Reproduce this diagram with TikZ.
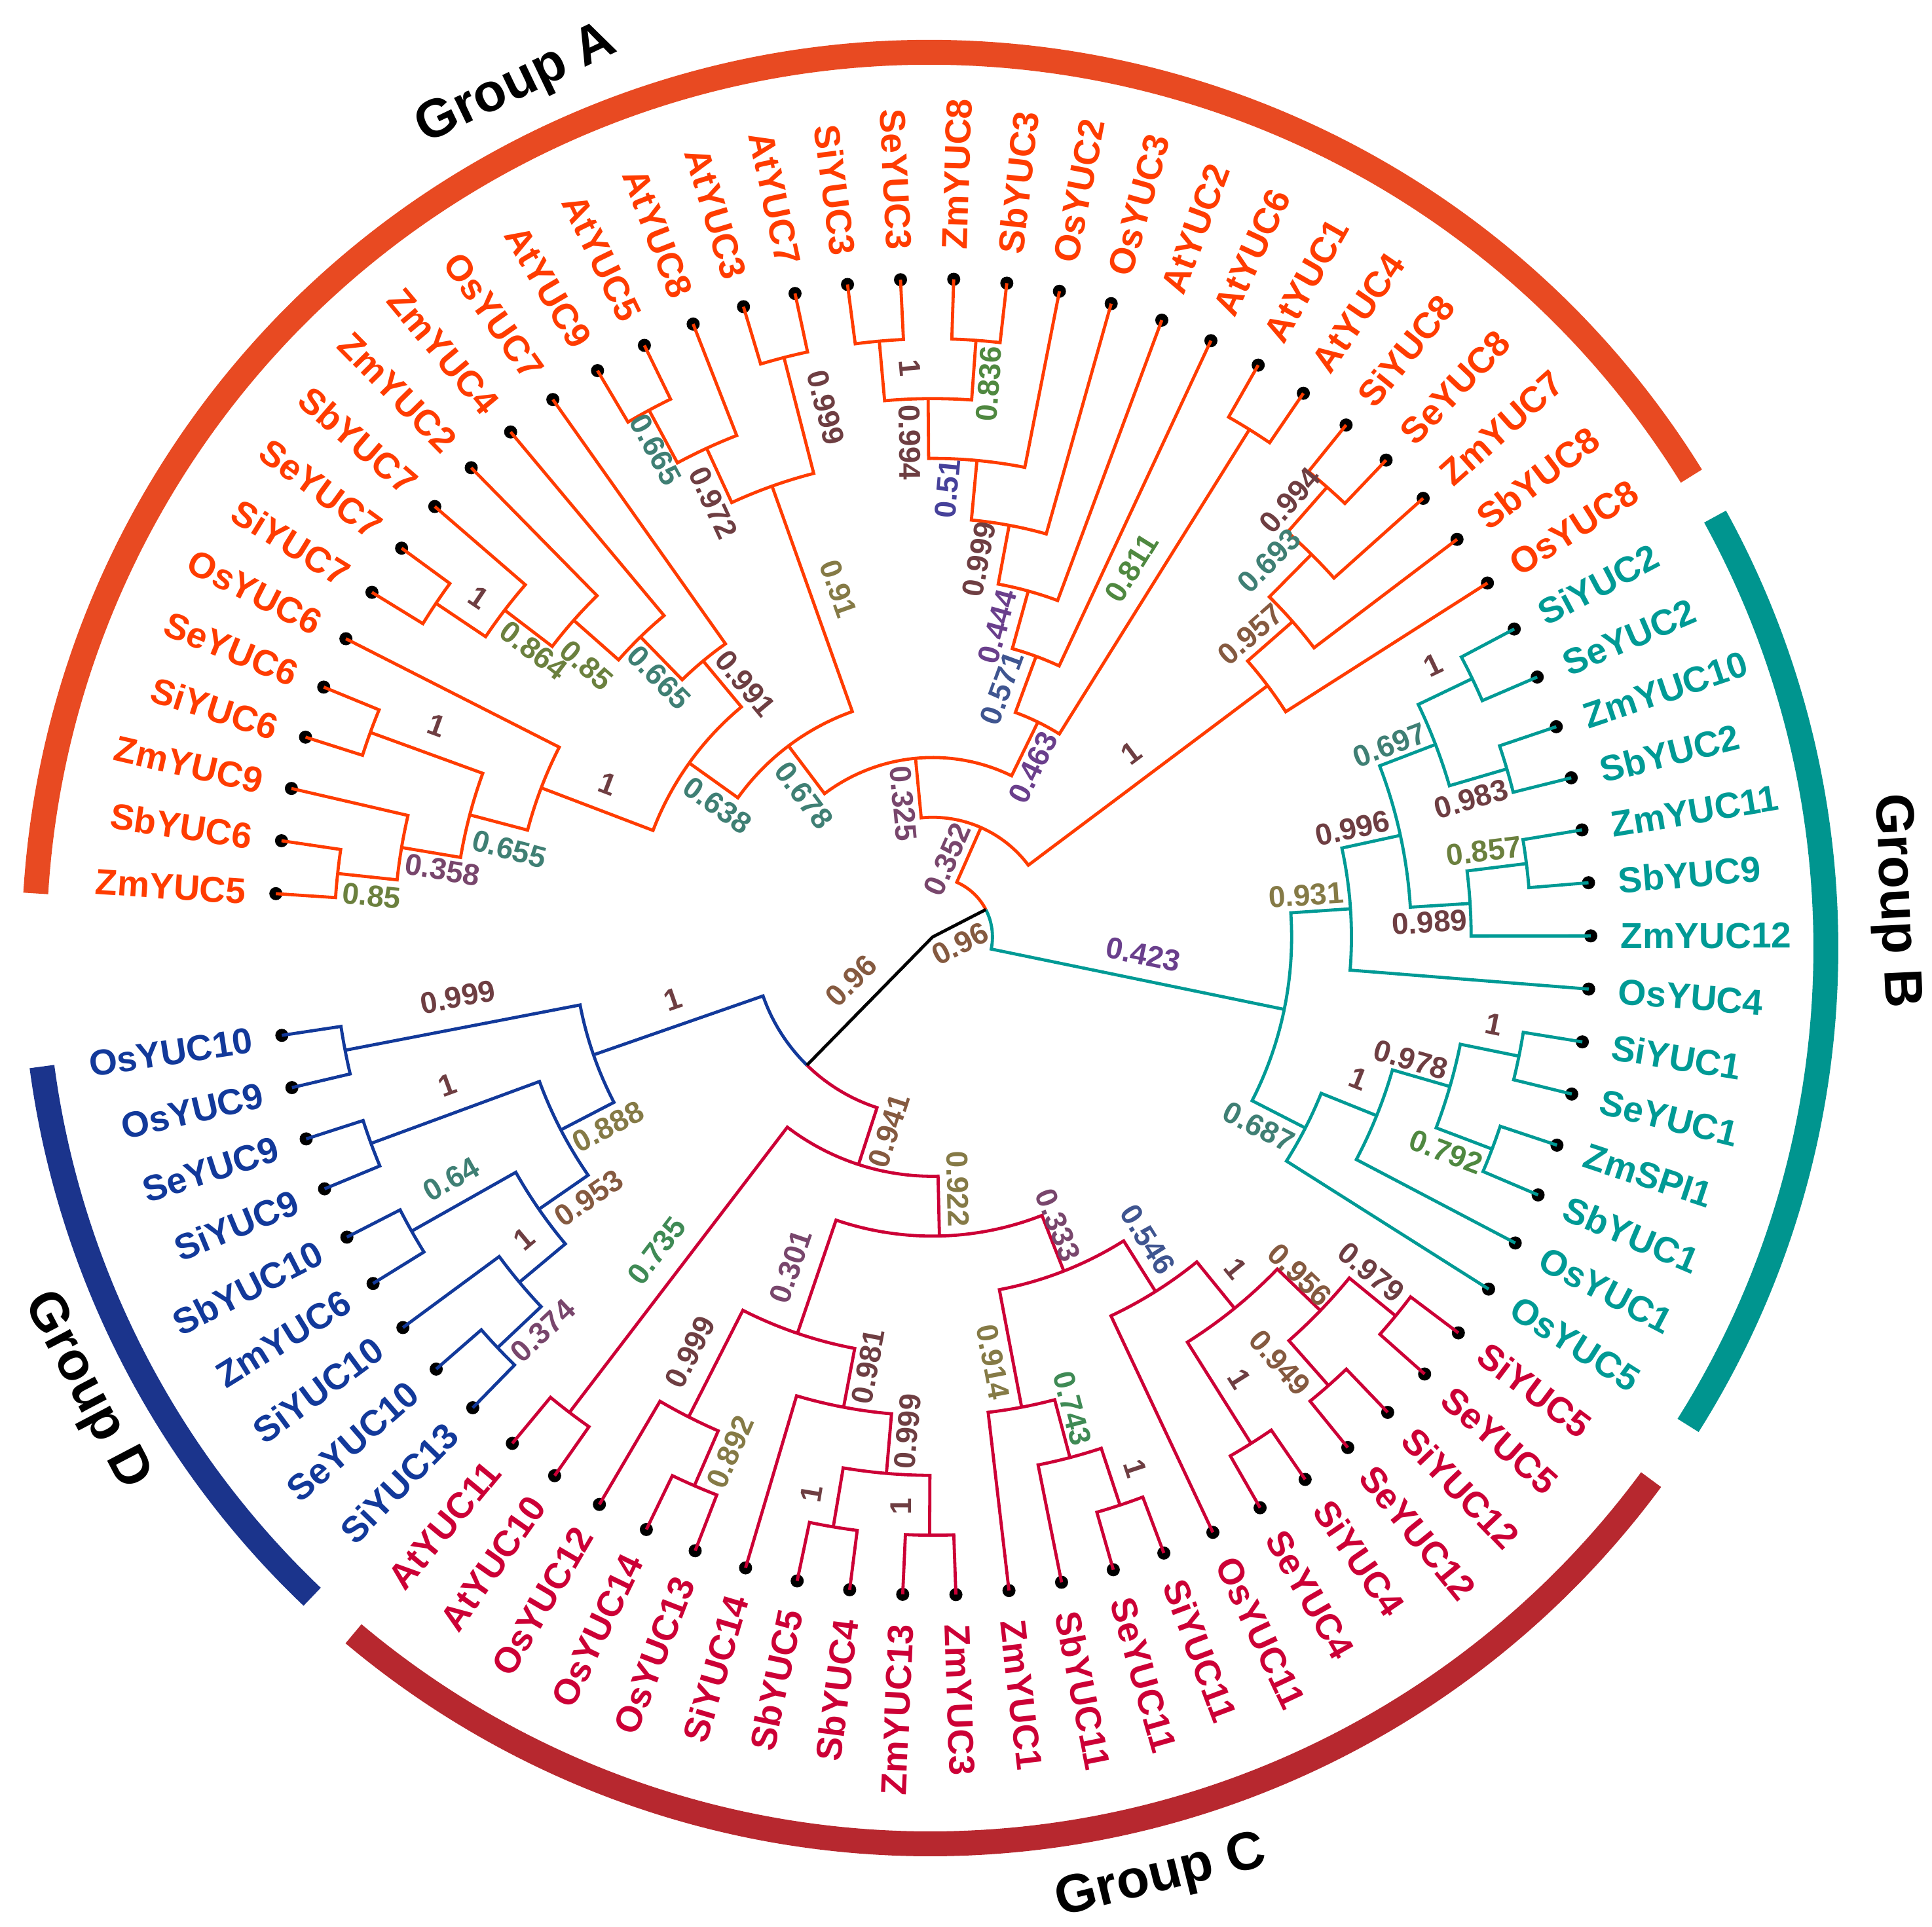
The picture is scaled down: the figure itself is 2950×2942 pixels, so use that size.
\documentclass[tikz,border=0pt]{standalone}
\usepackage{fontspec}
\setmainfont{Liberation Sans}
\definecolor{cA}{HTML}{FF3C00}
\definecolor{cB}{HTML}{009A95}
\definecolor{cC}{HTML}{CC0036}
\definecolor{cD}{HTML}{12399A}
\definecolor{gA}{HTML}{E84A22}
\definecolor{gB}{HTML}{00958F}
\definecolor{gC}{HTML}{B7282F}
\definecolor{gD}{HTML}{1B348C}
\definecolor{bs1}{HTML}{6E3E42}
\definecolor{bs2}{HTML}{855A40}
\definecolor{bs3}{HTML}{857A46}
\definecolor{bs4}{HTML}{6B803E}
\definecolor{bs5}{HTML}{4F8840}
\definecolor{bs6}{HTML}{3F8A55}
\definecolor{bs7}{HTML}{3F7F74}
\definecolor{bs8}{HTML}{3F5590}
\definecolor{bs9}{HTML}{46419A}
\definecolor{bs10}{HTML}{6A3F8C}
\definecolor{bs11}{HTML}{78466C}
\def\Rleaf{1005}
\def\stepr{91.36}
\def\Rlab{1050}
\tikzset{
  br/.style={line width=1.2pt,line join=miter},
  leaflab/.style={inner sep=0pt,font=\bfseries\fontsize{13.8}{14}\selectfont},
  bslab/.style={inner sep=0pt,font=\bfseries\fontsize{11.5}{12}\selectfont},
  grp/.style={inner sep=0pt,font=\bfseries\fontsize{20.5}{22}\selectfont,text=black},
  grparc/.style={line width=9.5pt}
}
\newcommand\leaf[3]{%
  \pgfmathsetmacro\la{188.6+4.635*#2}%
  \expandafter\xdef\csname a@#1\endcsname{\la}%
  \expandafter\xdef\csname h@#1\endcsname{0}%
  \pgfmathsetmacro\lc{cos(\la)}%
  \fill[black] (\la:\Rleaf) circle[radius=10];
  \ifdim\lc pt<0pt
    \node[leaflab,text=\curcol,anchor=east,rotate=\la-180] (#1) at (\la:\Rlab) {#3};
  \else
    \node[leaflab,text=\curcol,anchor=west,rotate=\la] (#1) at (\la:\Rlab) {#3};
  \fi
}
\newcommand\cladecalc[4]{%
  \pgfmathsetmacro\ta{\csname a@#3\endcsname}%
  \pgfmathsetmacro\tb{\csname a@#4\endcsname}%
  \pgfmathsetmacro\tm{(\ta+\tb)/2}%
  \pgfmathsetmacro\tr{\Rleaf-\stepr*#2}%
  \pgfmathsetmacro\ra{\Rleaf-\stepr*\csname h@#3\endcsname}%
  \pgfmathsetmacro\rb{\Rleaf-\stepr*\csname h@#4\endcsname}%
  \expandafter\xdef\csname a@#1\endcsname{\tm}%
  \expandafter\xdef\csname h@#1\endcsname{#2}%
}
\newcommand\clade[4]{%
  \cladecalc{#1}{#2}{#3}{#4}%
  \draw[br,\curcol] (\ta:\ra) -- (\ta:\tr) arc[start angle=\ta,end angle=\tb,radius=\tr] -- (\tb:\rb);
  \coordinate (#1) at (\tm:\tr);
}
\newcommand\splitclade[6]{%
  \cladecalc{#1}{#2}{#3}{#4}%
  \draw[br,#5] (\ta:\ra) -- (\ta:\tr) arc[start angle=\ta,end angle=\tm,radius=\tr];
  \draw[br,#6] (\tm:\tr) arc[start angle=\tm,end angle=\tb,radius=\tr] -- (\tb:\rb);
  \coordinate (#1) at (\tm:\tr);
}
\newcommand\setbscol[1]{%
  \ifdim#1pt>0.965pt\def\bsc{bs1}%
  \else\ifdim#1pt>0.935pt\def\bsc{bs2}%
  \else\ifdim#1pt>0.875pt\def\bsc{bs3}%
  \else\ifdim#1pt>0.845pt\def\bsc{bs4}%
  \else\ifdim#1pt>0.78pt\def\bsc{bs5}%
  \else\ifdim#1pt>0.72pt\def\bsc{bs6}%
  \else\ifdim#1pt>0.6pt\def\bsc{bs7}%
  \else\ifdim#1pt>0.53pt\def\bsc{bs8}%
  \else\ifdim#1pt>0.49pt\def\bsc{bs9}%
  \else\ifdim#1pt>0.4pt\def\bsc{bs10}%
  \else\def\bsc{bs11}%
  \fi\fi\fi\fi\fi\fi\fi\fi\fi\fi}
\newcommand\bs[4]{%
  \pgfmathsetmacro\sa{\csname a@#1\endcsname}%
  \pgfmathsetmacro\sc{cos(\sa)}%
  \ifdim\sc pt<0pt \pgfmathsetmacro\sr{\sa-180}\else\let\sr\sa\fi
  \setbscol{#4}%
  \node[bslab,text=\bsc,rotate=\sr] (bs#1) at (#2:#3) {#4};
}
\begin{document}
\begin{tikzpicture}[x=0.25pt,y=0.25pt]
\useasboundingbox (-1424,-1511) rectangle (1526,1431);
% ---------------- Group D ----------------
\def\curcol{cD}
\leaf{OsYUC10}{0}{OsYUC10}
\leaf{OsYUC9}{1}{OsYUC9}
\leaf{SeYUC9}{2}{SeYUC9}
\leaf{SiYUC9}{3}{SiYUC9}
\leaf{SbYUC10}{4}{SbYUC10}
\leaf{ZmYUC6}{5}{ZmYUC6}
\leaf{SiYUC10}{6}{SiYUC10}
\leaf{SeYUC10}{7}{SeYUC10}
\leaf{SiYUC13}{8}{SiYUC13}
\clade{d01}{1}{OsYUC10}{OsYUC9}
\clade{d23}{1}{SeYUC9}{SiYUC9}
\clade{d45}{1}{SbYUC10}{ZmYUC6}
\clade{d78}{1}{SeYUC10}{SiYUC13}
\clade{d2}{2}{SiYUC10}{d78}
\clade{d3}{3}{d45}{d2}
\clade{d4}{4}{d23}{d3}
\clade{dD}{5}{d01}{d4}
% ---------------- Group C ----------------
\def\curcol{cC}
\leaf{AtYUC11}{9}{AtYUC11}
\leaf{AtYUC10}{10}{AtYUC10}
\leaf{OsYUC12}{11}{OsYUC12}
\leaf{OsYUC14}{12}{OsYUC14}
\leaf{OsYUC13}{13}{OsYUC13}
\leaf{SiYUC14}{14}{SiYUC14}
\leaf{SbYUC5}{15}{SbYUC5}
\leaf{SbYUC4}{16}{SbYUC4}
\leaf{ZmYUC13}{17}{ZmYUC13}
\leaf{ZmYUC3}{18}{ZmYUC3}
\leaf{ZmYUC1}{19}{ZmYUC1}
\leaf{SbYUC11}{20}{SbYUC11}
\leaf{SeYUC11}{21}{SeYUC11}
\leaf{SiYUC11}{22}{SiYUC11}
\leaf{OsYUC11}{23}{OsYUC11}
\leaf{SeYUC4}{24}{SeYUC4}
\leaf{SiYUC4}{25}{SiYUC4}
\leaf{SeYUC12}{26}{SeYUC12}
\leaf{SiYUC12}{27}{SiYUC12}
\leaf{SeYUC5}{28}{SeYUC5}
\leaf{SiYUC5}{29}{SiYUC5}
\clade{c910}{1}{AtYUC11}{AtYUC10}
\clade{c1213}{1}{OsYUC14}{OsYUC13}
\clade{cHa}{2}{OsYUC12}{c1213}
\clade{c1516}{1}{SbYUC5}{SbYUC4}
\clade{c1718}{1}{ZmYUC13}{ZmYUC3}
\clade{cHb}{2}{c1516}{c1718}
\clade{cHc}{3}{SiYUC14}{cHb}
\clade{cHd}{4}{cHa}{cHc}
\clade{c2122}{1}{SeYUC11}{SiYUC11}
\clade{cHe}{2}{SbYUC11}{c2122}
\clade{cHf}{3}{ZmYUC1}{cHe}
\clade{c2425}{1}{SeYUC4}{SiYUC4}
\clade{c2627}{1}{SeYUC12}{SiYUC12}
\clade{c2829}{1}{SeYUC5}{SiYUC5}
\clade{cHg}{2}{c2627}{c2829}
\clade{cHh}{3}{c2425}{cHg}
\clade{cHi}{4}{OsYUC11}{cHh}
\clade{cHj}{5}{cHf}{cHi}
\clade{cHk}{6}{cHd}{cHj}
\clade{Cnode}{7}{c910}{cHk}
% ---------------- Group B ----------------
\def\curcol{cB}
\leaf{OsYUC5}{30}{OsYUC5}
\leaf{OsYUC1}{31}{OsYUC1}
\leaf{SbYUC1}{32}{SbYUC1}
\leaf{ZmSPI1}{33}{ZmSPI1}
\leaf{SeYUC1}{34}{SeYUC1}
\leaf{SiYUC1}{35}{SiYUC1}
\leaf{OsYUC4}{36}{OsYUC4}
\leaf{ZmYUC12}{37}{ZmYUC12}
\leaf{SbYUC9}{38}{SbYUC9}
\leaf{ZmYUC11}{39}{ZmYUC11}
\leaf{SbYUC2}{40}{SbYUC2}
\leaf{ZmYUC10}{41}{ZmYUC10}
\leaf{SeYUC2}{42}{SeYUC2}
\leaf{SiYUC2}{43}{SiYUC2}
\clade{b3435}{1}{SeYUC1}{SiYUC1}
\clade{b3233}{1}{SbYUC1}{ZmSPI1}
\clade{bHa}{2}{b3233}{b3435}
\clade{bHb}{3}{OsYUC1}{bHa}
\clade{bHc}{4}{OsYUC5}{bHb}
\clade{b3839}{1}{SbYUC9}{ZmYUC11}
\clade{bHd}{2}{ZmYUC12}{b3839}
\clade{b4041}{1}{SbYUC2}{ZmYUC10}
\clade{b4243}{1}{SeYUC2}{SiYUC2}
\clade{bHe}{2}{b4041}{b4243}
\clade{bHf}{3}{bHd}{bHe}
\clade{bHg}{4}{OsYUC4}{bHf}
\clade{Bnode}{5}{bHc}{bHg}
% ---------------- Group A ----------------
\def\curcol{cA}
\leaf{OsYUC8}{44}{OsYUC8}
\leaf{SbYUC8}{45}{SbYUC8}
\leaf{ZmYUC7}{46}{ZmYUC7}
\leaf{SeYUC8}{47}{SeYUC8}
\leaf{SiYUC8}{48}{SiYUC8}
\leaf{AtYUC4}{49}{AtYUC4}
\leaf{AtYUC1}{50}{AtYUC1}
\leaf{AtYUC6}{51}{AtYUC6}
\leaf{AtYUC2}{52}{AtYUC2}
\leaf{OsYUC3}{53}{OsYUC3}
\leaf{OsYUC2}{54}{OsYUC2}
\leaf{SbYUC3}{55}{SbYUC3}
\leaf{ZmYUC8}{56}{ZmYUC8}
\leaf{SeYUC3}{57}{SeYUC3}
\leaf{SiYUC3}{58}{SiYUC3}
\leaf{AtYUC7}{59}{AtYUC7}
\leaf{AtYUC3}{60}{AtYUC3}
\leaf{AtYUC8}{61}{AtYUC8}
\leaf{AtYUC5}{62}{AtYUC5}
\leaf{AtYUC9}{63}{AtYUC9}
\leaf{OsYUC7}{64}{OsYUC7}
\leaf{ZmYUC4}{65}{ZmYUC4}
\leaf{ZmYUC2}{66}{ZmYUC2}
\leaf{SbYUC7}{67}{SbYUC7}
\leaf{SeYUC7}{68}{SeYUC7}
\leaf{SiYUC7}{69}{SiYUC7}
\leaf{OsYUC6}{70}{OsYUC6}
\leaf{SeYUC6}{71}{SeYUC6}
\leaf{SiYUC6}{72}{SiYUC6}
\leaf{ZmYUC9}{73}{ZmYUC9}
\leaf{SbYUC6}{74}{SbYUC6}
\leaf{ZmYUC5}{75}{ZmYUC5}
\clade{a4748}{1}{SeYUC8}{SiYUC8}
\clade{aHa}{2}{ZmYUC7}{a4748}
\clade{aHb}{3}{SbYUC8}{aHa}
\clade{aHc}{4}{OsYUC8}{aHb}
\clade{a4950}{1}{AtYUC4}{AtYUC1}
\clade{a5556}{1}{SbYUC3}{ZmYUC8}
\clade{a5758}{1}{SeYUC3}{SiYUC3}
\clade{aHd}{2}{a5556}{a5758}
\clade{aHe}{3}{OsYUC2}{aHd}
\clade{aHf}{4}{OsYUC3}{aHe}
\clade{aHg}{5}{AtYUC2}{aHf}
\clade{aHh}{6}{AtYUC6}{aHg}
\clade{aHi}{7}{a4950}{aHh}
\clade{a5960}{1}{AtYUC7}{AtYUC3}
\clade{a6263}{1}{AtYUC5}{AtYUC9}
\clade{aHj}{2}{AtYUC8}{a6263}
\clade{aHk}{3}{a5960}{aHj}
\clade{a6869}{1}{SeYUC7}{SiYUC7}
\clade{aHl}{2}{SbYUC7}{a6869}
\clade{aHm}{3}{ZmYUC2}{aHl}
\clade{aHn}{4}{ZmYUC4}{aHm}
\clade{aHo}{5}{OsYUC7}{aHn}
\clade{a7172}{1}{SeYUC6}{SiYUC6}
\clade{a7475}{1}{SbYUC6}{ZmYUC5}
\clade{aHp}{2}{ZmYUC9}{a7475}
\clade{aHq}{3}{a7172}{aHp}
\clade{aHr}{4}{OsYUC6}{aHq}
\clade{aHs}{6}{aHo}{aHr}
\clade{aHt}{7}{aHk}{aHs}
\clade{aHu}{8}{aHi}{aHt}
\clade{Anode}{9}{aHc}{aHu}
% ---------------- backbone ----------------
\splitclade{AB}{10}{Bnode}{Anode}{cB}{cA}
\splitclade{CD}{8}{dD}{Cnode}{cD}{cC}
\coordinate (root) at (0,0);
\draw[br,black] (AB) -- (root) -- (CD);
% ---------------- support values ----------------
\bs{AB}{-14.0}{43}{0.96}
\bs{CD}{208.2}{141}{0.96}
\bs{d01}{187.2}{731}{0.999}
\bs{d23}{196.95}{775}{1}
\bs{d45}{206.7}{823}{0.64}
\bs{d78}{225.3}{846}{0.374}
\bs{d2}{216.5}{776}{1}
\bs{d3}{217.2}{659}{0.953}
\bs{d4}{210.3}{574}{0.888}
\bs{dD}{193.5}{408}{1}
\bs{c910}{228.65}{638}{0.735}
\bs{c1213}{248.55}{845}{0.892}
\bs{cHa}{239.7}{734}{0.999}
\bs{c1516}{257.75}{870}{1}
\bs{c1718}{266.85}{871}{1}
\bs{cHb}{267.1}{756}{0.999}
\bs{cHc}{261.45}{663}{0.981}
\bs{cHd}{246.7}{548}{0.301}
\bs{c2122}{290.85}{869}{1}
\bs{cHe}{286.5}{751}{0.743}
\bs{cHf}{278.1}{656}{0.914}
\bs{c2425}{304.8}{822}{1}
\bs{c2627}{309.2}{839}{0.949}
\bs{c2829}{322.6}{843}{0.979}
\bs{cHg}{317.4}{762}{0.956}
\bs{cHh}{312.4}{686}{1}
\bs{cHi}{305.4}{567}{0.546}
\bs{cHj}{293.5}{480}{0.333}
\bs{cHk}{275.7}{387}{0.922}
\bs{Cnode}{257.3}{303}{0.941}
\bs{b3435}{-8.85}{868}{1}
\bs{b3233}{-22.7}{850}{0.792}
\bs{bHa}{-14.4}{754}{0.978}
\bs{bHb}{-18.4}{685}{1}
\bs{bHc}{-30.2}{576}{0.687}
\bs{b3839}{8.86}{852}{0.857}
\bs{bHd}{1.72}{759}{0.989}
\bs{b4041}{14.4}{849}{0.983}
\bs{b4243}{28.5}{870}{1}
\bs{bHe}{22.8}{757}{0.697}
\bs{bHf}{14.5}{662}{0.996}
\bs{bHg}{6.4}{574}{0.931}
\bs{Bnode}{355.2}{323}{0.423}
\bs{a4748}{50.7}{862}{0.994}
\bs{aHa}{48.2}{771}{0.693}
\bs{aHb}{43.6}{670}{0.957}
\bs{aHc}{42.85}{413}{1}
\bs{a4950}{61.7}{640}{0.811}
\bs{a5556}{84.2}{849}{0.836}
\bs{a5758}{92.3}{870}{1}
\bs{aHd}{92.65}{756}{0.994}
\bs{aHe}{88.1}{685}{0.51}
\bs{aHf}{83.0}{581}{0.999}
\bs{aHg}{78.2}{484}{0.444}
\bs{aHh}{74.5}{394}{0.571}
\bs{aHi}{59.4}{301}{0.463}
\bs{a5960}{101.4}{825}{0.999}
\bs{a6263}{119.6}{856}{0.665}
\bs{aHj}{116.8}{743}{0.972}
\bs{aHk}{105.1}{551}{0.91}
\bs{a6869}{143.2}{866}{1}
\bs{aHl}{144.3}{750}{0.864}
\bs{aHm}{141.85}{672}{0.85}
\bs{aHn}{136.5}{576}{0.665}
\bs{aHo}{126.45}{481}{0.991}
\bs{a7172}{156.9}{823}{1}
\bs{a7475}{175.8}{859}{0.85}
\bs{aHp}{172.2}{755}{0.358}
\bs{aHq}{168.25}{660}{0.655}
\bs{aHr}{154.8}{548}{1}
\bs{aHs}{148.5}{385}{0.638}
\bs{aHt}{132.25}{292}{0.678}
\bs{aHu}{102.3}{209}{0.325}
\bs{Anode}{79.25}{121}{0.352}
% ---------------- group arcs ----------------
\begin{scope}[shift={(-4,-17)}]
\draw[gA,grparc] (31.8:1368) arc[start angle=31.8,end angle=176.5,radius=1368];
\draw[gB,grparc] (-32.2:1368) arc[start angle=-32.2,end angle=28.8,radius=1368];
\draw[gC,grparc] (229.95:1368) arc[start angle=229.95,end angle=323.6,radius=1368];
\draw[gD,grparc] (187.6:1368) arc[start angle=187.6,end angle=226.4,radius=1368];
\node[grp,rotate=25.6] (tA) at (115.6:1461) {Group A};
\node[grp,rotate=-87.2] (tB) at (2.8:1474) {Group B};
\node[grp,rotate=13.96] (tC) at (-76.04:1463) {Group C};
\node[grp,rotate=-62.3] (tD) at (207.7:1456) {Group D};
\end{scope}
\end{tikzpicture}
\end{document}
